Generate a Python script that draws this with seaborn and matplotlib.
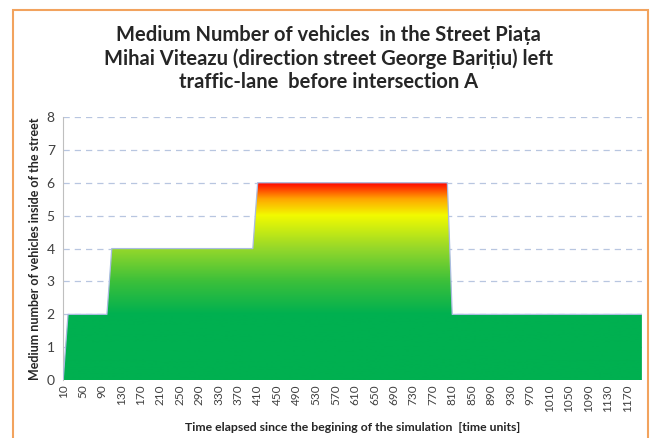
import numpy as np
import matplotlib.pyplot as plt
import seaborn as sns
from matplotlib.colors import LinearSegmentedColormap
from matplotlib.patches import Rectangle

# time axis (categories every 10 units) and the stepped vehicle counts
time = list(range(10, 1210, 10))
levels = [0, 2, 4, 6, 2]
runs = [1, 9, 30, 40, 40]
vehicles = [lv for lv, n in zip(levels, runs) for _ in range(n)]
xtick_labels = list(range(10, 1210, 40))

sns.set_style("white")
plt.rcParams['font.family'] = ['Lato', 'DejaVu Sans']

fig = plt.figure(figsize=(6.51, 4.38), dpi=100)
ax = fig.add_axes([0.097, 0.132, 0.889, 0.601])

# outer orange frame
fig.patches.append(Rectangle((0.02, -0.02), 0.975, 0.997, transform=fig.transFigure,
                             fill=False, edgecolor='#F2A35E', linewidth=1.5))

# vertical gradient green -> yellow -> red, clipped to the area
cmap = LinearSegmentedColormap.from_list('traffic', [
    (0.0, '#00B050'), (2.0 / 6, '#00B050'), (3.0 / 6, '#3CC03A'),
    (4.0 / 6, '#96D82A'), (5.0 / 6, '#F2FA00'), (5.5 / 6, '#FFA500'),
    (1.0, '#FF0000')])
grad = np.linspace(0, 1, 256).reshape(-1, 1)
poly = ax.fill_between(time, vehicles, 0, color='none', zorder=2)
img = ax.imshow(grad, cmap=cmap, origin='lower', aspect='auto',
                extent=[10, 1200, 0, 6], zorder=2)
img.set_clip_path(poly.get_paths()[0], transform=ax.transData)
sns.lineplot(x=time, y=vehicles, ax=ax, color='#A9BCE0', linewidth=0.9, zorder=3)

ax.set_xlim(10, 1200)
ax.set_ylim(0, 8)
ax.set_yticks(range(0, 9))
ax.set_xticks(xtick_labels)
ax.set_xticklabels([str(v) for v in xtick_labels], rotation=90, fontsize=8.5, color='#404040')
ax.tick_params(axis='y', labelsize=10, colors='#404040', length=0, pad=6)
ax.tick_params(axis='x', length=0, pad=3)
ax.yaxis.grid(True, linestyle=(0, (5, 4)), color='#B8C6E0', linewidth=0.9)
ax.set_axisbelow(True)
for side in ['top', 'right', 'bottom']:
    ax.spines[side].set_visible(False)
ax.spines['left'].set_color('#BFBFBF')

ax.set_ylabel('Medium number of vehicles inside of the street', fontsize=9,
              fontweight='bold', labelpad=4)
ax.set_xlabel('Time elapsed since the begining of the simulation  [time units]',
              fontsize=8.8, fontweight='bold', labelpad=7)
fig.text(0.505, 0.867, 'Medium Number of vehicles  in the Street Piața\n'
         'Mihai Viteazu (direction street George Barițiu) left\n'
         'traffic-lane  before intersection A',
         ha='center', va='center', fontsize=14.5, fontweight='bold',
         linespacing=1.2)

fig.savefig('out.png', dpi=100)
